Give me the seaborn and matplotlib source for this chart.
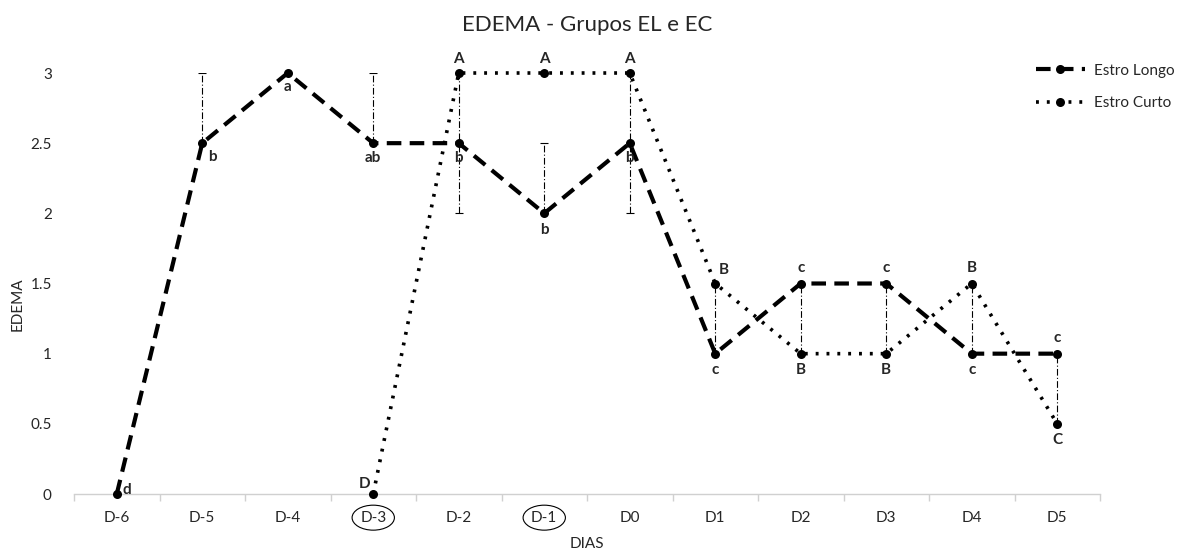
import matplotlib
matplotlib.use("Agg")
import matplotlib.pyplot as plt
import seaborn as sns
import pandas as pd

days = ["D-6", "D-5", "D-4", "D-3", "D-2", "D-1", "D0", "D1", "D2", "D3", "D4", "D5"]
el_values = [0, 2.5, 3, 2.5, 2.5, 2, 2.5, 1, 1.5, 1.5, 1, 1]
ec_days = ["D-3", "D-2", "D-1", "D0", "D1", "D2", "D3", "D4", "D5"]
ec_values = [0, 3, 3, 3, 1.5, 1, 1, 1.5, 0.5]
el_letters = ["d", "b", "a", "ab", "b", "b", "b", "c", "c", "c", "c", "c"]
ec_letters = ["D", "A", "A", "A", "B", "B", "B", "B", "C"]
# error bars (lower, upper) per series
el_err_low = [0, 0, 0, 0, 0, 0, 0, 0, 0.5, 0.5, 0, 0.5]
el_err_up = [0, 0.5, 0, 0.5, 0, 0.5, 0, 0, 0, 0, 0, 0]
ec_err_low = [0, 1, 0, 1, 0.5, 0, 0, 0.5, 0]
ec_err_up = [0, 0, 0, 0, 0, 0, 0, 0, 0]

FONT = ["Lato", "DejaVu Sans"]
sns.set_theme(style="white")
plt.rcParams["font.family"] = FONT

fig = plt.figure(figsize=(11.84, 5.52), dpi=100)
ax = fig.add_axes([74 / 1184, 1 - 494 / 552, 1026 / 1184, 421 / 552])

df_el = pd.DataFrame({"dia": days, "edema": el_values})
df_ec = pd.DataFrame({"dia": ec_days, "edema": ec_values})

sns.lineplot(data=df_el, x="dia", y="edema", ax=ax, color="black", linewidth=3,
             linestyle=(0, (3.5, 2)), marker="o", markersize=6.5, markeredgewidth=0,
             label="Estro Longo", clip_on=False, sort=False, zorder=3)
sns.lineplot(data=df_ec, x="dia", y="edema", ax=ax, color="black", linewidth=2.6,
             linestyle=(0, (0.8, 2.2)), marker="o", markersize=6.5, markeredgewidth=0,
             label="Estro Curto", clip_on=False, sort=False, zorder=3)

pos = {d: i for i, d in enumerate(days)}
el_x = [pos[d] for d in days]
ec_x = [pos[d] for d in ec_days]

def draw_err(xs, ys, lo, up):
    xe, ye, le, ue = [], [], [], []
    for x, y, l, u in zip(xs, ys, lo, up):
        if l or u:
            xe.append(x); ye.append(y); le.append(l); ue.append(u)
    eb = ax.errorbar(xe, ye, yerr=[le, ue], fmt="none", ecolor="black",
                     elinewidth=0.8, capsize=3, capthick=0.8, zorder=2)
    eb[2][0].set_linestyle((0, (6, 2, 1, 2)))
    return eb

draw_err(el_x, el_values, el_err_low, el_err_up)
draw_err(ec_x, ec_values, ec_err_low, ec_err_up)

# letter annotations: offsets in points
el_off = [(7, 3), (7, -10), (0, -10), (0, -11), (0, -11), (0, -12), (0, -11),
          (0, -12), (0, 11), (0, 11), (0, -12), (0, 11)]
ec_off = [(-6, 7), (0, 10), (0, 10), (0, 10), (6, 10), (0, -12), (0, -12), (0, 11), (0, -12)]
for x, y, t, o in zip(el_x, el_values, el_letters, el_off):
    ax.annotate(t, (x, y), xytext=o, textcoords="offset points", ha="center",
                va="center", fontsize=11, fontweight="bold", annotation_clip=False)
for x, y, t, o in zip(ec_x, ec_values, ec_letters, ec_off):
    ax.annotate(t, (x, y), xytext=o, textcoords="offset points", ha="center",
                va="center", fontsize=11, fontweight="bold", annotation_clip=False)

ax.set_xlim(-0.5, len(days) - 0.5)
ax.set_ylim(0, 3)
ax.set_yticks([0, 0.5, 1, 1.5, 2, 2.5, 3])
ax.set_yticklabels(["0", "0.5", "1", "1.5", "2", "2.5", "3"], fontsize=11)
ax.set_xticks(range(len(days)))
ax.set_xticklabels(days, fontsize=11)
for lab in ax.get_xticklabels():
    if lab.get_text() in ("D-3", "D-1"):
        lab.set_bbox(dict(boxstyle="ellipse,pad=0.12", fc="none", ec="black", lw=0.8))

# minor ticks at category boundaries
ax.set_xticks([i - 0.5 for i in range(len(days) + 1)], minor=True)
ax.tick_params(axis="x", which="minor", length=5, color="#d0d0d0", width=1, bottom=True)
ax.tick_params(axis="x", which="major", length=0, pad=12)
ax.tick_params(axis="y", length=0, pad=16)

for s in ["top", "right", "left"]:
    ax.spines[s].set_visible(False)
ax.spines["bottom"].set_color("#d0d0d0")
ax.spines["bottom"].set_linewidth(1)
ax.grid(False)

ax.set_xlabel("DIAS", fontsize=11, labelpad=9)
ax.set_ylabel("EDEMA", fontsize=11)
ax.yaxis.set_label_coords(-56 / 1026, 0.45)
ax.yaxis.label.set_va("center")
ax.set_title("EDEMA - Grupos EL e EC", fontsize=16, pad=30)

ax.get_legend().remove()
handles, labels = ax.get_legend_handles_labels()
fig.legend(handles, labels, loc="upper left", bbox_to_anchor=(1022 / 1184, 1 - 50 / 552),
           frameon=False, fontsize=11, handlelength=3.2, labelspacing=1.2, handletextpad=0.6)

fig.savefig("out.png", dpi=100)
